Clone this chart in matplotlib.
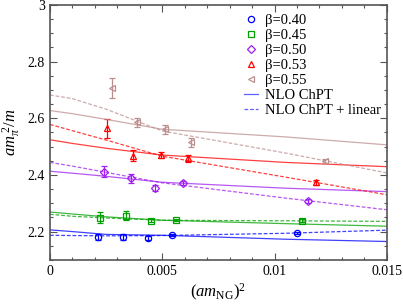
import matplotlib
matplotlib.use("Agg")
import matplotlib.pyplot as plt
from matplotlib.ticker import MultipleLocator, FuncFormatter
from matplotlib.lines import Line2D

plt.rcParams['font.family'] = ['Liberation Serif', 'DejaVu Serif']
plt.rcParams['mathtext.fontset'] = 'custom'
plt.rcParams['mathtext.rm'] = 'Liberation Serif'
plt.rcParams['mathtext.it'] = 'Liberation Serif:italic'

betas = ["0.40", "0.45", "0.50", "0.53", "0.55"]
colors = ["#0000ff", "#00a000", "#a020f0", "#ff0000", "#bc8f8f"]
markers = ["o", "s", "D", "^", "<"]

# data points (x, y, err) per beta
x_040 = [0.00215, 0.00326, 0.00435, 0.00544, 0.01098]
y_040 = [2.181, 2.181, 2.178, 2.187, 2.195]
e_040 = [0.012, 0.012, 0.008, 0.004, 0.005]

x_045 = [0.00223, 0.00338, 0.00448, 0.00561, 0.0112]
y_045 = [2.249, 2.256, 2.239, 2.241, 2.239]
e_045 = [0.020, 0.015, 0.005, 0.005, 0.005]

x_050 = [0.00242, 0.0036, 0.00467, 0.00592, 0.01151]
y_050 = [2.412, 2.388, 2.353, 2.372, 2.309]
e_050 = [0.020, 0.015, 0.010, 0.007, 0.007]

x_053 = [0.00255, 0.00371, 0.00495, 0.00613, 0.01184]
y_053 = [2.564, 2.468, 2.471, 2.459, 2.374]
e_053 = [0.034, 0.020, 0.010, 0.012, 0.008]

x_055 = [0.00274, 0.00386, 0.0051, 0.00626, 0.01225]
y_055 = [2.708, 2.585, 2.561, 2.515, 2.450]
e_055 = [0.035, 0.015, 0.015, 0.015, 0.007]

# fit curves
x_fit = [0.0, 0.001, 0.0025, 0.005, 0.0105, 0.015]
nlo_040 = [2.206, 2.200, 2.190, 2.187, 2.173, 2.165]
nlo_045 = [2.269, 2.262, 2.252, 2.240, 2.228, 2.219]
nlo_050 = [2.413, 2.406, 2.395, 2.374, 2.353, 2.341]
nlo_053 = [2.524, 2.511, 2.494, 2.470, 2.444, 2.429]
nlo_055 = [2.627, 2.616, 2.596, 2.561, 2.534, 2.506]

lin_040 = [2.187, 2.186, 2.185, 2.186, 2.194, 2.205]
lin_045 = [2.261, 2.254, 2.248, 2.240, 2.238, 2.236]
lin_050 = [2.444, 2.431, 2.409, 2.372, 2.318, 2.277]
lin_053 = [2.578, 2.556, 2.523, 2.466, 2.392, 2.330]
lin_055 = [2.682, 2.669, 2.632, 2.555, 2.477, 2.407]

xs = [x_040, x_045, x_050, x_053, x_055]
ys = [y_040, y_045, y_050, y_053, y_055]
es = [e_040, e_045, e_050, e_053, e_055]
nlos = [nlo_040, nlo_045, nlo_050, nlo_053, nlo_055]
lins = [lin_040, lin_045, lin_050, lin_053, lin_055]

fig = plt.figure(figsize=(4.03, 3.04), dpi=100)
ax = fig.add_axes([0.124, 0.145, 0.836, 0.839])

for b, c, m, x, y, e, n, l in zip(betas, colors, markers, xs, ys, es, nlos, lins):
    ax.plot(x_fit, n, '-', color=c, lw=0.9, alpha=0.75)
    ax.plot(x_fit, l, '--', color=c, lw=0.9, alpha=0.75, dashes=(3, 1.5))
    ax.errorbar(x, y, yerr=e, fmt=m, color=c, mfc='none', mec=c, ms=4.5 if m != 'D' else 3.8,
                mew=0.9, elinewidth=0.9, capsize=2.5, capthick=0.9)

handles = []
for b, c, m in zip(betas, colors, markers):
    handles.append(Line2D([], [], ls='none', marker=m, color=c, mfc='none', mec=c,
                          ms=4.5 if m != 'D' else 3.8, mew=0.9, label="β=" + b))
handles.append(Line2D([], [], ls='-', color='#6060ff', lw=0.9, label="NLO ChPT"))
handles.append(Line2D([], [], ls='--', color='#6060ff', lw=0.9, dashes=(3, 1.5), label="NLO ChPT + linear"))
ax.legend(handles=handles, loc='upper right', bbox_to_anchor=(1.01, 1.0), frameon=False,
          fontsize=10.5, handlelength=1.0, handletextpad=0.5, labelspacing=0.13, borderaxespad=0.2)

ax.set_xlim(0, 0.015)
ax.set_ylim(2.1, 3.0)
ax.xaxis.set_major_locator(MultipleLocator(0.005))
ax.xaxis.set_minor_locator(MultipleLocator(0.001))
ax.yaxis.set_major_locator(MultipleLocator(0.2))
ax.yaxis.set_minor_locator(MultipleLocator(0.05))
ax.xaxis.set_major_formatter(FuncFormatter(lambda v, p: "%g" % round(v, 6)))
ax.yaxis.set_major_formatter(FuncFormatter(lambda v, p: "%g" % round(v, 6)))
ax.set_yticks([2.2, 2.4, 2.6, 2.8, 3.0])
ax.tick_params(which='both', direction='in', top=True, right=True, labelsize=10, color='#555555')
ax.tick_params(which='major', length=5, width=0.8)
ax.tick_params(which='minor', length=2.5, width=0.8)
for s in ax.spines.values():
    s.set_color('#555555')
    s.set_linewidth(1.2)

ax.set_xlabel(r"$(am_{\rm NG})^2$", fontsize=12, labelpad=3)
ax.set_ylabel(r"$am_{\pi}^{\ 2}/m$", fontsize=12, labelpad=4)

fig.savefig("out.png", dpi=100)
